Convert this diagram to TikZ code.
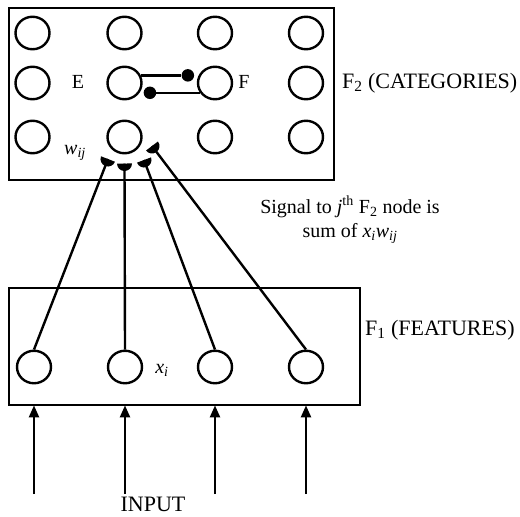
\documentclass[tikz,border=0pt]{standalone}
\usepackage{fontspec}
\setmainfont{Liberation Serif}
\usetikzlibrary{arrows.meta,calc,decorations.markings,shapes.geometric}

\begin{document}
\begin{tikzpicture}[x=1pt,y=-1pt,
  unit/.style={draw, ellipse, line width=2.4pt, minimum width=34pt,
    minimum height=32.5pt, inner sep=0pt},
  layer/.style={draw, line width=2.4pt, inner sep=0pt, anchor=north west},
  conn/.style={line width=2.4pt},
  dotend/.style={circle, fill, inner sep=0pt, minimum size=12.5pt},
  feed/.style={line width=2.4pt, -{Triangle[length=12pt,width=10pt]}, shorten >=-1pt},
  cupend/.style={conn, postaction={decorate, decoration={markings,
    mark=at position 1 with {\fill (0pt,-7.5pt) -- (0pt,7.5pt)
      arc[start angle=90, end angle=270, radius=7.5pt] -- cycle;}}}},
  biglabel/.style={font=\fontsize{22}{26}\selectfont, inner sep=1pt},
  midlabel/.style={font=\fontsize{20}{24}\selectfont, inner sep=1pt},
  smalllabel/.style={font=\fontsize{20}{23}\selectfont, inner sep=1pt},
]
\useasboundingbox (0,0) rectangle (520,517);

% layer boxes
\node[layer, minimum width=325pt, minimum height=172pt] (F2box) at (8,7) {};
\node[layer, minimum width=351pt, minimum height=117pt] (F1box) at (8,287) {};

% F2 units (3 rows x 4 columns)
\foreach \y [count=\r] in {33,83,137}
  \foreach \x [count=\c] in {32.5,124.5,215,306}
    \node[unit] (t\r\c) at (\x,\y) {};

% F1 units
\foreach \x [count=\c] in {34,125,215,306}
  \node[unit] (b\c) at (\x,367) {};

% lateral connection between E and F
\path (t22.25) ++(47,0) node[dotend] (dA) {};
\draw[conn] (t22.25) -- (dA);
\path (t23.213) ++(-50,0) node[dotend] (dB) {};
\draw[conn] (t23.213) -- (dB);

% bottom-up weighted connections into unit j
\coordinate (w1) at (108,159);
\coordinate (w2) at (124.5,163.5);
\coordinate (w3) at (144,160);
\coordinate (w4) at (152,146);
\foreach \i in {1,...,4}
  \draw[cupend] (b\i.north) -- (w\i);

% input arrows
\foreach \i in {1,...,4} {
  \coordinate (in\i) at ($(b\i.center)+(0,127)$);
  \draw[feed] (in\i) -- (in\i |- F1box.south);
}

% labels
\node[smalllabel, anchor=base] (lE) at (78,88.5) {E};
\node[smalllabel, anchor=base] (lF) at (244,88.5) {F};
\node[smalllabel, anchor=base] (lw) at (75,154) {\textit{w}\textsubscript{\textit{ij}}};
\node[midlabel, anchor=base] (lx) at (162,373) {\textit{x}\textsubscript{\textit{i}}};
\node[biglabel, anchor=base west] (lF2) at (341,88.5) {F\textsubscript{2} (CATEGORIES)};
\node[biglabel, anchor=base west] (lF1) at (364,335) {F\textsubscript{1} (FEATURES)};
\node[biglabel, anchor=base] (lin) at (153,511.5) {INPUT};
\node[midlabel, anchor=base] (ls1) at (350,213)
  {Signal to \textit{j}\textsuperscript{th} F\textsubscript{2} node is};
\node[midlabel, anchor=base] (ls2) at (350,237)
  {sum of \textit{x}\textsubscript{\textit{i}}\textit{w}\textsubscript{\textit{ij}}};
\end{tikzpicture}
\end{document}
